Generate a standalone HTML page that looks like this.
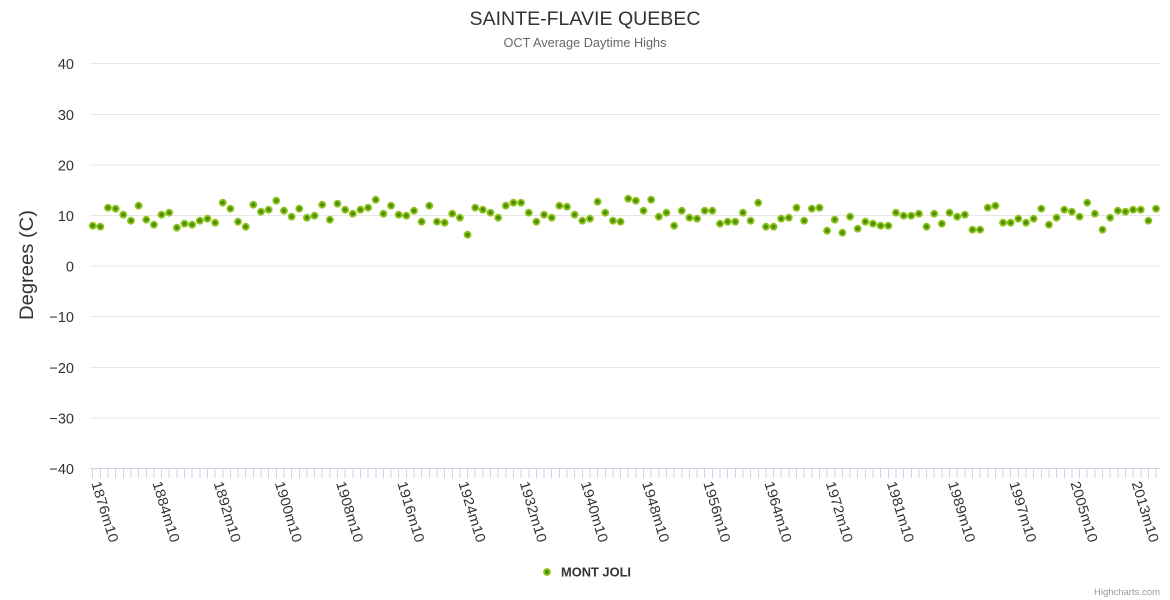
<!DOCTYPE html>
<html><head><meta charset="utf-8"><style>
html,body{margin:0;padding:0;background:#fff;}
svg{display:block;font-family:"Liberation Sans",sans-serif;}
</style></head><body>
<svg width="1170" height="600" viewBox="0 0 1170 600" xmlns="http://www.w3.org/2000/svg">
<rect width="1170" height="600" fill="#fff"/>
<text x="585" y="25" text-anchor="middle" font-size="19" fill="#333" textLength="231" lengthAdjust="spacingAndGlyphs">SAINTE-FLAVIE QUEBEC</text>
<text x="585" y="47" text-anchor="middle" font-size="12.5" fill="#666" textLength="163" lengthAdjust="spacingAndGlyphs">OCT Average Daytime Highs</text>
<g stroke="#e6e6e6" stroke-width="1" shape-rendering="crispEdges">
<line x1="90" x2="1160" y1="63.5" y2="63.5"/>
<line x1="90" x2="1160" y1="114.5" y2="114.5"/>
<line x1="90" x2="1160" y1="165" y2="165"/>
<line x1="90" x2="1160" y1="215.5" y2="215.5"/>
<line x1="90" x2="1160" y1="266" y2="266"/>
<line x1="90" x2="1160" y1="316.5" y2="316.5"/>
<line x1="90" x2="1160" y1="367.5" y2="367.5"/>
<line x1="90" x2="1160" y1="418" y2="418"/>
</g>
<g font-size="14.5" fill="#333" text-anchor="end">
<text x="74" y="69">40</text>
<text x="74" y="120">30</text>
<text x="74" y="170.5">20</text>
<text x="74" y="221">10</text>
<text x="74" y="271.5">0</text>
<text x="74" y="322">−10</text>
<text x="74" y="373">−20</text>
<text x="74" y="423.5">−30</text>
<text x="74" y="474">−40</text>
</g>
<text x="33" y="265" text-anchor="middle" font-size="19" fill="#333" transform="rotate(-90 33 265)" textLength="110" lengthAdjust="spacingAndGlyphs">Degrees (C)</text>
<line x1="90" x2="1160" y1="468.5" y2="468.5" stroke="#ccd6eb" stroke-width="1" shape-rendering="crispEdges"/>
<path stroke="#ccd6eb" stroke-width="1" fill="none" shape-rendering="crispEdges" d="M92.7 468v10M100.35 468v10M108 468v10M115.65 468v10M123.3 468v10M130.95 468v10M138.6 468v10M146.25 468v10M153.9 468v10M161.55 468v10M169.2 468v10M176.85 468v10M184.5 468v10M192.15 468v10M199.8 468v10M207.45 468v10M215.1 468v10M222.75 468v10M230.4 468v10M238.05 468v10M245.7 468v10M253.35 468v10M261 468v10M268.65 468v10M276.3 468v10M283.95 468v10M291.6 468v10M299.25 468v10M306.9 468v10M314.55 468v10M322.2 468v10M329.85 468v10M337.5 468v10M345.15 468v10M352.8 468v10M360.45 468v10M368.1 468v10M375.75 468v10M383.4 468v10M391.05 468v10M398.7 468v10M406.35 468v10M414 468v10M421.65 468v10M429.3 468v10M436.95 468v10M444.6 468v10M452.25 468v10M459.9 468v10M467.55 468v10M475.2 468v10M482.85 468v10M490.5 468v10M498.15 468v10M505.8 468v10M513.45 468v10M521.1 468v10M528.75 468v10M536.4 468v10M544.05 468v10M551.7 468v10M559.35 468v10M567 468v10M574.65 468v10M582.3 468v10M589.95 468v10M597.6 468v10M605.25 468v10M612.9 468v10M620.55 468v10M628.2 468v10M635.85 468v10M643.5 468v10M651.15 468v10M658.8 468v10M666.45 468v10M674.1 468v10M681.75 468v10M689.4 468v10M697.05 468v10M704.7 468v10M712.35 468v10M720 468v10M727.65 468v10M735.3 468v10M742.95 468v10M750.6 468v10M758.25 468v10M765.9 468v10M773.55 468v10M781.2 468v10M788.85 468v10M796.5 468v10M804.15 468v10M811.8 468v10M819.45 468v10M827.1 468v10M834.75 468v10M842.4 468v10M850.05 468v10M857.7 468v10M865.35 468v10M873 468v10M880.65 468v10M888.3 468v10M895.95 468v10M903.6 468v10M911.25 468v10M918.9 468v10M926.55 468v10M934.2 468v10M941.85 468v10M949.5 468v10M957.15 468v10M964.8 468v10M972.45 468v10M980.1 468v10M987.75 468v10M995.4 468v10M1003.05 468v10M1010.7 468v10M1018.35 468v10M1026 468v10M1033.65 468v10M1041.3 468v10M1048.95 468v10M1056.6 468v10M1064.25 468v10M1071.9 468v10M1079.55 468v10M1087.2 468v10M1094.85 468v10M1102.5 468v10M1110.15 468v10M1117.8 468v10M1125.45 468v10M1133.1 468v10M1140.75 468v10M1148.4 468v10M1156.05 468v10"/>
<g font-size="14" fill="#333">
<text x="91.2" y="483" transform="rotate(73 91.2 483)" textLength="63" lengthAdjust="spacingAndGlyphs">1876m10</text>
<text x="152.4" y="483" transform="rotate(73 152.4 483)" textLength="63" lengthAdjust="spacingAndGlyphs">1884m10</text>
<text x="213.6" y="483" transform="rotate(73 213.6 483)" textLength="63" lengthAdjust="spacingAndGlyphs">1892m10</text>
<text x="274.8" y="483" transform="rotate(73 274.8 483)" textLength="63" lengthAdjust="spacingAndGlyphs">1900m10</text>
<text x="336" y="483" transform="rotate(73 336 483)" textLength="63" lengthAdjust="spacingAndGlyphs">1908m10</text>
<text x="397.2" y="483" transform="rotate(73 397.2 483)" textLength="63" lengthAdjust="spacingAndGlyphs">1916m10</text>
<text x="458.4" y="483" transform="rotate(73 458.4 483)" textLength="63" lengthAdjust="spacingAndGlyphs">1924m10</text>
<text x="519.6" y="483" transform="rotate(73 519.6 483)" textLength="63" lengthAdjust="spacingAndGlyphs">1932m10</text>
<text x="580.8" y="483" transform="rotate(73 580.8 483)" textLength="63" lengthAdjust="spacingAndGlyphs">1940m10</text>
<text x="642" y="483" transform="rotate(73 642 483)" textLength="63" lengthAdjust="spacingAndGlyphs">1948m10</text>
<text x="703.2" y="483" transform="rotate(73 703.2 483)" textLength="63" lengthAdjust="spacingAndGlyphs">1956m10</text>
<text x="764.4" y="483" transform="rotate(73 764.4 483)" textLength="63" lengthAdjust="spacingAndGlyphs">1964m10</text>
<text x="825.6" y="483" transform="rotate(73 825.6 483)" textLength="63" lengthAdjust="spacingAndGlyphs">1972m10</text>
<text x="886.8" y="483" transform="rotate(73 886.8 483)" textLength="63" lengthAdjust="spacingAndGlyphs">1981m10</text>
<text x="948" y="483" transform="rotate(73 948 483)" textLength="63" lengthAdjust="spacingAndGlyphs">1989m10</text>
<text x="1009.2" y="483" transform="rotate(73 1009.2 483)" textLength="63" lengthAdjust="spacingAndGlyphs">1997m10</text>
<text x="1070.4" y="483" transform="rotate(73 1070.4 483)" textLength="63" lengthAdjust="spacingAndGlyphs">2005m10</text>
<text x="1131.6" y="483" transform="rotate(73 1131.6 483)" textLength="63" lengthAdjust="spacingAndGlyphs">2013m10</text>
</g>
<g fill="#4a8f00" stroke="#8ec21d" stroke-width="1.8">
<circle cx="92.7" cy="225.7" r="3"/><circle cx="100.35" cy="226.7" r="3"/><circle cx="108" cy="207.7" r="3"/><circle cx="115.65" cy="208.7" r="3"/><circle cx="123.3" cy="214.7" r="3"/><circle cx="130.95" cy="220.7" r="3"/><circle cx="138.6" cy="205.7" r="3"/><circle cx="146.25" cy="219.7" r="3"/><circle cx="153.9" cy="224.7" r="3"/><circle cx="161.55" cy="214.7" r="3"/>
<circle cx="169.2" cy="212.7" r="3"/><circle cx="176.85" cy="227.7" r="3"/><circle cx="184.5" cy="223.7" r="3"/><circle cx="192.15" cy="224.7" r="3"/><circle cx="199.8" cy="220.7" r="3"/><circle cx="207.45" cy="218.7" r="3"/><circle cx="215.1" cy="222.7" r="3"/><circle cx="222.75" cy="202.7" r="3"/><circle cx="230.4" cy="208.7" r="3"/><circle cx="238.05" cy="221.7" r="3"/>
<circle cx="245.7" cy="226.7" r="3"/><circle cx="253.35" cy="204.7" r="3"/><circle cx="261" cy="211.7" r="3"/><circle cx="268.65" cy="209.7" r="3"/><circle cx="276.3" cy="200.7" r="3"/><circle cx="283.95" cy="210.7" r="3"/><circle cx="291.6" cy="216.7" r="3"/><circle cx="299.25" cy="208.7" r="3"/><circle cx="306.9" cy="217.7" r="3"/><circle cx="314.55" cy="215.7" r="3"/>
<circle cx="322.2" cy="204.7" r="3"/><circle cx="329.85" cy="219.7" r="3"/><circle cx="337.5" cy="203.7" r="3"/><circle cx="345.15" cy="209.7" r="3"/><circle cx="352.8" cy="213.7" r="3"/><circle cx="360.45" cy="209.7" r="3"/><circle cx="368.1" cy="207.7" r="3"/><circle cx="375.75" cy="199.7" r="3"/><circle cx="383.4" cy="213.7" r="3"/><circle cx="391.05" cy="205.7" r="3"/>
<circle cx="398.7" cy="214.7" r="3"/><circle cx="406.35" cy="215.7" r="3"/><circle cx="414" cy="210.7" r="3"/><circle cx="421.65" cy="221.7" r="3"/><circle cx="429.3" cy="205.7" r="3"/><circle cx="436.95" cy="221.7" r="3"/><circle cx="444.6" cy="222.7" r="3"/><circle cx="452.25" cy="213.7" r="3"/><circle cx="459.9" cy="217.7" r="3"/><circle cx="467.55" cy="234.7" r="3"/>
<circle cx="475.2" cy="207.7" r="3"/><circle cx="482.85" cy="209.7" r="3"/><circle cx="490.5" cy="212.7" r="3"/><circle cx="498.15" cy="217.7" r="3"/><circle cx="505.8" cy="205.7" r="3"/><circle cx="513.45" cy="202.7" r="3"/><circle cx="521.1" cy="202.7" r="3"/><circle cx="528.75" cy="212.7" r="3"/><circle cx="536.4" cy="221.7" r="3"/><circle cx="544.05" cy="214.7" r="3"/>
<circle cx="551.7" cy="217.7" r="3"/><circle cx="559.35" cy="205.7" r="3"/><circle cx="567" cy="206.7" r="3"/><circle cx="574.65" cy="214.7" r="3"/><circle cx="582.3" cy="220.7" r="3"/><circle cx="589.95" cy="218.7" r="3"/><circle cx="597.6" cy="201.7" r="3"/><circle cx="605.25" cy="212.7" r="3"/><circle cx="612.9" cy="220.7" r="3"/><circle cx="620.55" cy="221.7" r="3"/>
<circle cx="628.2" cy="198.7" r="3"/><circle cx="635.85" cy="200.7" r="3"/><circle cx="643.5" cy="210.7" r="3"/><circle cx="651.15" cy="199.7" r="3"/><circle cx="658.8" cy="216.7" r="3"/><circle cx="666.45" cy="212.7" r="3"/><circle cx="674.1" cy="225.7" r="3"/><circle cx="681.75" cy="210.7" r="3"/><circle cx="689.4" cy="217.7" r="3"/><circle cx="697.05" cy="218.7" r="3"/>
<circle cx="704.7" cy="210.7" r="3"/><circle cx="712.35" cy="210.7" r="3"/><circle cx="720" cy="223.7" r="3"/><circle cx="727.65" cy="221.7" r="3"/><circle cx="735.3" cy="221.7" r="3"/><circle cx="742.95" cy="212.7" r="3"/><circle cx="750.6" cy="220.7" r="3"/><circle cx="758.25" cy="202.7" r="3"/><circle cx="765.9" cy="226.7" r="3"/><circle cx="773.55" cy="226.7" r="3"/>
<circle cx="781.2" cy="218.7" r="3"/><circle cx="788.85" cy="217.7" r="3"/><circle cx="796.5" cy="207.7" r="3"/><circle cx="804.15" cy="220.7" r="3"/><circle cx="811.8" cy="208.7" r="3"/><circle cx="819.45" cy="207.7" r="3"/><circle cx="827.1" cy="230.7" r="3"/><circle cx="834.75" cy="219.7" r="3"/><circle cx="842.4" cy="232.7" r="3"/><circle cx="850.05" cy="216.7" r="3"/>
<circle cx="857.7" cy="228.7" r="3"/><circle cx="865.35" cy="221.7" r="3"/><circle cx="873" cy="223.7" r="3"/><circle cx="880.65" cy="225.7" r="3"/><circle cx="888.3" cy="225.7" r="3"/><circle cx="895.95" cy="212.7" r="3"/><circle cx="903.6" cy="215.7" r="3"/><circle cx="911.25" cy="215.7" r="3"/><circle cx="918.9" cy="213.7" r="3"/><circle cx="926.55" cy="226.7" r="3"/>
<circle cx="934.2" cy="213.7" r="3"/><circle cx="941.85" cy="223.7" r="3"/><circle cx="949.5" cy="212.7" r="3"/><circle cx="957.15" cy="216.7" r="3"/><circle cx="964.8" cy="214.7" r="3"/><circle cx="972.45" cy="229.7" r="3"/><circle cx="980.1" cy="229.7" r="3"/><circle cx="987.75" cy="207.7" r="3"/><circle cx="995.4" cy="205.7" r="3"/><circle cx="1003.05" cy="222.7" r="3"/>
<circle cx="1010.7" cy="222.7" r="3"/><circle cx="1018.35" cy="218.7" r="3"/><circle cx="1026" cy="222.7" r="3"/><circle cx="1033.65" cy="218.7" r="3"/><circle cx="1041.3" cy="208.7" r="3"/><circle cx="1048.95" cy="224.7" r="3"/><circle cx="1056.6" cy="217.7" r="3"/><circle cx="1064.25" cy="209.7" r="3"/><circle cx="1071.9" cy="211.7" r="3"/><circle cx="1079.55" cy="216.7" r="3"/>
<circle cx="1087.2" cy="202.7" r="3"/><circle cx="1094.85" cy="213.7" r="3"/><circle cx="1102.5" cy="229.7" r="3"/><circle cx="1110.15" cy="217.7" r="3"/><circle cx="1117.8" cy="210.7" r="3"/><circle cx="1125.45" cy="211.7" r="3"/><circle cx="1133.1" cy="209.7" r="3"/><circle cx="1140.75" cy="209.7" r="3"/><circle cx="1148.4" cy="220.7" r="3"/><circle cx="1156.05" cy="208.7" r="3"/>
<circle cx="547" cy="572" r="3"/>
</g>
<text x="561" y="576.5" font-size="12.5" font-weight="bold" fill="#333" textLength="70" lengthAdjust="spacingAndGlyphs">MONT JOLI</text>
<text x="1160" y="595" text-anchor="end" font-size="9.5" fill="#999">Highcharts.com</text>
</svg>
</body></html>
